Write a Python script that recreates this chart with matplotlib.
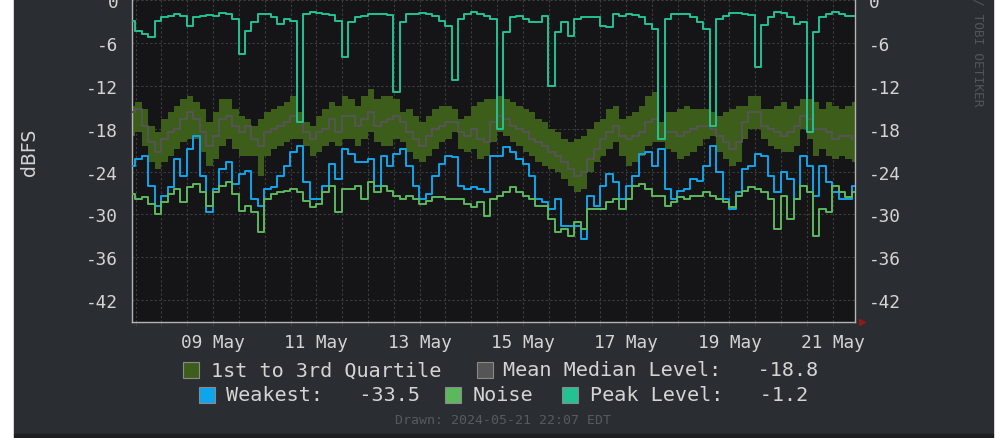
import matplotlib
matplotlib.use("Agg")
import matplotlib.pyplot as plt
import matplotlib.dates as mdates
from matplotlib.patches import Rectangle
from datetime import datetime, timedelta

# ---------------- data (dBFS, one value every 3 hours) ----------------
start_time = datetime(2024, 5, 7, 10, 20)
step_hours = 3

peak_level = [
    -2.9, -4.3, -4.7, -5.2, -2.9, -2.4, -2.2, -1.9, -2.2, -3.6, -2.4, -2.2, -2.1, -2.2, -1.8, -1.9, -2.6, -7.5, -4.3,
    -3.1, -1.9, -1.9, -2.4, -3.3, -2.6, -2.9, -17.1, -1.9, -1.7, -1.8, -1.9, -2.1, -2.9, -8.0, -3.1, -2.4, -2.2, -1.9,
    -1.9, -1.9, -2.1, -12.9, -3.0, -1.9, -1.9, -1.8, -1.9, -2.2, -2.9, -3.6, -11.2, -2.6, -1.9, -1.6, -1.9, -2.2, -2.6,
    -18.0, -4.5, -2.4, -2.2, -2.6, -3.1, -3.1, -2.2, -12.0, -4.5, -3.1, -5.0, -2.6, -2.4, -2.4, -2.4, -3.6, -3.8, -1.9,
    -2.2, -1.9, -2.1, -2.4, -3.3, -4.0, -19.5, -2.6, -1.9, -1.9, -1.9, -2.4, -3.1, -4.0, -17.6, -2.6, -2.2, -1.8, -1.8,
    -1.9, -2.1, -9.3, -3.5, -2.4, -1.7, -1.8, -2.4, -3.3, -3.1, -18.5, -4.5, -2.4, -1.9, -1.7, -1.9, -2.2, -2.2,
]

quartile_3 = [
    -14.8, -14.3, -15.3, -17.6, -18.5, -16.7, -15.7, -14.8, -13.9, -13.4, -14.3, -15.3, -17.1, -15.7, -13.9, -13.9, -15.3, -16.2, -16.7,
    -17.6, -16.7, -15.7, -15.3, -14.8, -14.3, -13.4, -15.7, -17.1, -17.6, -16.2, -15.3, -14.3, -14.8, -13.4, -13.9, -14.8, -13.4, -12.4,
    -13.9, -13.4, -13.4, -13.9, -15.7, -15.3, -16.2, -17.1, -16.2, -15.3, -14.8, -14.8, -15.3, -16.7, -16.2, -14.8, -14.3, -13.9, -13.9,
    -13.4, -13.9, -14.3, -14.8, -15.3, -15.7, -16.7, -17.1, -18.1, -18.5, -19.5, -19.9, -19.5, -19.0, -18.1, -17.1, -16.7, -15.3, -14.8,
    -16.7, -16.2, -15.7, -14.8, -13.4, -12.9, -17.1, -15.7, -15.7, -15.3, -14.8, -15.3, -15.3, -15.3, -15.7, -16.2, -15.7, -15.3, -14.8,
    -14.8, -13.4, -13.4, -15.3, -15.3, -14.8, -14.3, -15.3, -14.8, -13.9, -13.9, -14.3, -15.3, -14.3, -14.8, -15.3, -14.8, -14.3,
]

quartile_1 = [
    -19.0, -18.5, -20.4, -22.7, -23.7, -22.7, -21.8, -20.9, -19.9, -19.5, -19.5, -21.3, -23.2, -22.3, -20.4, -19.5, -20.9, -21.8, -21.8,
    -21.8, -24.6, -21.8, -20.9, -20.4, -19.9, -19.5, -19.5, -20.4, -21.8, -21.3, -20.4, -19.9, -20.4, -19.5, -19.5, -20.4, -19.5, -18.5,
    -19.9, -20.4, -20.4, -19.5, -19.9, -21.3, -22.3, -22.7, -21.8, -20.9, -19.9, -19.5, -18.5, -20.9, -21.3, -20.9, -22.3, -21.8, -19.9,
    -18.5, -19.0, -19.9, -20.4, -21.3, -21.8, -22.7, -23.2, -23.7, -24.1, -25.1, -26.0, -26.9, -26.5, -24.1, -22.7, -21.8, -20.9, -19.9,
    -21.8, -23.2, -22.7, -21.8, -20.4, -19.9, -19.9, -20.9, -21.3, -22.3, -21.8, -21.3, -20.4, -19.5, -19.0, -21.3, -22.3, -23.2, -22.7,
    -19.5, -18.1, -18.1, -19.5, -20.4, -20.9, -21.3, -21.3, -20.4, -18.1, -19.5, -21.8, -20.9, -21.8, -22.3, -21.8, -22.3, -22.7,
]

median_level = [
    -15.7, -15.3, -17.6, -19.9, -21.3, -19.5, -18.5, -18.1, -16.7, -15.7, -16.7, -18.5, -20.4, -19.0, -16.7, -16.2, -17.6, -18.5, -17.6,
    -19.5, -20.4, -18.5, -18.1, -17.6, -17.1, -16.2, -17.1, -18.5, -19.5, -18.5, -18.1, -16.7, -18.5, -16.2, -16.2, -17.6, -16.7, -15.7,
    -17.6, -17.1, -16.7, -16.2, -17.1, -18.5, -19.5, -20.4, -19.0, -18.1, -17.6, -17.1, -17.1, -18.5, -19.0, -18.1, -19.5, -19.9, -17.1,
    -16.2, -16.7, -17.6, -18.1, -18.5, -19.5, -19.9, -20.4, -21.3, -21.8, -22.7, -23.7, -24.6, -24.1, -22.3, -20.9, -19.5, -18.5, -17.6,
    -19.0, -19.5, -19.0, -18.5, -17.1, -16.7, -19.5, -18.5, -18.5, -19.0, -18.5, -18.1, -17.6, -17.6, -18.1, -19.0, -19.9, -20.9, -19.9,
    -17.1, -15.7, -15.7, -17.6, -18.1, -18.5, -19.0, -18.5, -17.6, -16.2, -16.7, -18.1, -18.1, -18.5, -19.5, -19.0, -19.0, -19.5,
]

weakest_level = [
    -23.2, -22.3, -21.8, -26.0, -28.8, -27.4, -26.2, -22.3, -24.6, -20.9, -19.0, -24.6, -29.7, -26.5, -23.7, -22.7, -25.8, -24.4, -23.9,
    -27.9, -28.8, -26.5, -26.2, -24.6, -23.2, -21.3, -20.4, -25.5, -27.9, -27.9, -26.0, -23.0, -25.1, -20.9, -21.6, -22.7, -22.7, -22.3,
    -26.0, -21.8, -23.2, -21.6, -20.9, -23.2, -26.0, -27.9, -27.2, -24.6, -23.0, -21.8, -22.0, -26.0, -26.5, -26.2, -26.5, -26.9, -21.8,
    -21.8, -20.6, -21.3, -22.3, -23.0, -24.6, -27.9, -28.3, -29.3, -27.9, -31.6, -31.6, -31.6, -33.5, -27.4, -28.8, -26.0, -24.4, -25.5,
    -27.9, -26.0, -24.6, -21.6, -21.3, -23.2, -20.9, -26.5, -27.9, -26.7, -26.5, -25.1, -25.3, -23.2, -20.4, -24.1, -27.9, -29.3, -26.9,
    -23.7, -23.2, -21.6, -21.8, -24.6, -26.9, -24.1, -25.1, -27.9, -21.8, -23.2, -27.4, -23.2, -25.5, -26.9, -27.9, -27.9, -26.0,
]

noise_level = [
    -27.2, -27.9, -27.6, -28.6, -30.0, -28.3, -27.2, -26.5, -28.3, -26.2, -25.8, -26.9, -28.8, -26.9, -26.0, -25.4, -27.2, -29.5, -28.8,
    -29.7, -32.5, -27.9, -27.2, -26.9, -26.7, -26.5, -26.9, -28.1, -29.0, -28.6, -26.9, -26.0, -29.7, -26.5, -26.5, -26.0, -27.9, -25.5,
    -26.9, -26.0, -26.7, -27.4, -27.9, -27.4, -27.9, -28.6, -28.1, -27.6, -27.6, -27.9, -27.9, -27.9, -28.6, -29.0, -28.3, -30.2, -27.9,
    -27.4, -26.9, -26.2, -26.9, -27.4, -27.9, -28.8, -28.8, -30.7, -32.5, -32.1, -33.0, -31.1, -32.1, -29.3, -29.3, -29.3, -28.3, -27.9,
    -29.3, -27.9, -26.0, -25.8, -26.5, -27.4, -27.4, -28.8, -28.3, -27.6, -27.9, -27.4, -27.4, -26.9, -27.4, -27.9, -28.3, -29.0, -27.4,
    -26.7, -26.2, -26.5, -26.9, -27.9, -32.1, -27.4, -30.7, -27.9, -26.0, -26.9, -33.0, -29.3, -29.7, -26.0, -26.9, -27.6, -26.9,
]

y_ticks = [0, -6, -12, -18, -24, -30, -36, -42]
y_tick_labels = ["0", "-6", "-12", "-18", "-24", "-30", "-36", "-42"]
x_tick_days = [9, 11, 13, 15, 17, 19, 21]
x_tick_labels = ["09 May", "11 May", "13 May", "15 May", "17 May", "19 May", "21 May"]

legend_median_value = "-18.8"
legend_weakest_value = "-33.5"
legend_peak_value = "-1.2"
drawn_text = "Drawn: 2024-05-21 22:07 EDT"
credit_text = "RRDTOOL / TOBI OETIKER"

# ---------------- style ----------------
W, H = 997, 439
panel_bg = "#2a2d31"
plot_bg = "#151517"
grid_col = "#3c3d40"
axis_col = "#b4b4b4"
text_col = "#d4d4d4"
band_col = "#3d5e1b"
median_col = "#555555"
weak_col = "#0ea5ec"
noise_col = "#5cb85c"
peak_col = "#22c293"
mono = "DejaVu Sans Mono"

times = [start_time + timedelta(hours=step_hours * i) for i in range(len(peak_level))]

fig = plt.figure(figsize=(W / 100, H / 100), dpi=100)
fig.patch.set_facecolor("white")


def fx(px):
    return px / W


def fy(py):
    return 1 - py / H


# dark panel and bottom shadow strip
fig.patches.append(Rectangle((fx(14), fy(435)), fx(993) - fx(14), fy(0) - fy(435),
                             transform=fig.transFigure, color=panel_bg, zorder=-10))
fig.patches.append(Rectangle((fx(14), fy(439)), fx(993) - fx(14), fy(435) - fy(439),
                             transform=fig.transFigure, color="#1c1e21", zorder=-10))

ax = fig.add_axes([fx(132), fy(323), fx(855) - fx(132), fy(0) - fy(323)])
ax.set_facecolor(plot_bg)
ax.set_xlim(times[0], times[-1])
ax.set_ylim(-45.08, 0.17)

ax.fill_between(times, quartile_1, quartile_3, step="mid", color=band_col, lw=0, zorder=2)
ax.plot(times, median_level, drawstyle="steps-mid", color=median_col, lw=1.4, zorder=3)
ax.plot(times, weakest_level, drawstyle="steps-mid", color=weak_col, lw=1.4, zorder=4)
ax.plot(times, noise_level, drawstyle="steps-mid", color=noise_col, lw=1.4, zorder=5)
ax.plot(times, peak_level, drawstyle="steps-mid", color=peak_col, lw=1.4, zorder=6)

# ticks and grid
ax.set_xticks([datetime(2024, 5, d) for d in x_tick_days])
ax.set_xticklabels(x_tick_labels)
ax.xaxis.set_minor_locator(mdates.HourLocator(byhour=[0, 12]))
ax.set_yticks(y_ticks)
ax.set_yticklabels(y_tick_labels)
ax.grid(True, which="both", axis="x", color=grid_col, lw=0.8, ls=(0, (2, 2)), zorder=1)
ax.grid(True, which="major", axis="y", color=grid_col, lw=0.8, ls=(0, (2, 2)), zorder=1)

ax.tick_params(axis="x", which="both", length=3, width=0.8, color=grid_col, direction="out",
               pad=5, labelsize=12.8, labelcolor=text_col)
ax.tick_params(axis="y", which="both", length=0, pad=10, labelsize=12.8, labelcolor=text_col,
               right=True, labelright=True)
for lab in ax.get_xticklabels() + ax.get_yticklabels():
    lab.set_family(mono)
for lab in ax.yaxis.get_ticklabels(which="major"):
    lab.set_family(mono)
for t in ax.yaxis.get_major_ticks():
    t.label2.set_family(mono)
    t.label2.set_fontsize(12.8)
    t.label2.set_color(text_col)

for s in ["left", "bottom", "right"]:
    ax.spines[s].set_color(axis_col)
    ax.spines[s].set_linewidth(1.0)
ax.spines["top"].set_visible(False)

# red arrow at end of time axis
ax.plot([1.0 + 7 / 723], [0], marker=">", color="#8e1b1b", markersize=5,
        transform=ax.transAxes, clip_on=False, zorder=10)

# y label
fig.text(fx(29), fy(152), "dBFS", rotation=90, ha="center", va="center",
         color=text_col, fontsize=13.5, family="DejaVu Sans")

# credit text (rotated)
fig.text(fx(978), fy(107), credit_text, rotation=270, ha="center", va="bottom",
         color="#50555a", fontsize=9.3, family=mono)


# legend
def legend_box(x0, y0, color):
    fig.patches.append(Rectangle((fx(x0), fy(y0 + 16)), fx(16), 16 / H, transform=fig.transFigure,
                                 facecolor=color, edgecolor="#8a8a8a", lw=0.8, zorder=5))


def legend_text(x0, yc, s):
    fig.text(fx(x0), fy(yc), s, ha="left", va="center", color=text_col, fontsize=14.5, family=mono)


legend_box(183, 363, band_col)
legend_text(211, 371, "1st to 3rd Quartile")
legend_box(477, 363, median_col)
legend_text(503, 371, "Mean Median Level:   " + legend_median_value)
legend_box(199, 388, weak_col)
legend_text(226, 396, "Weakest:   " + legend_weakest_value)
legend_box(445, 388, noise_col)
legend_text(473, 396, "Noise")
legend_box(562, 388, peak_col)
legend_text(590, 396, "Peak Level:   " + legend_peak_value)

fig.text(fx(503), fy(421), drawn_text, ha="center", va="center", color="#575b60",
         fontsize=9.5, family=mono)

fig.savefig("out.png", dpi=100, facecolor=fig.get_facecolor())
